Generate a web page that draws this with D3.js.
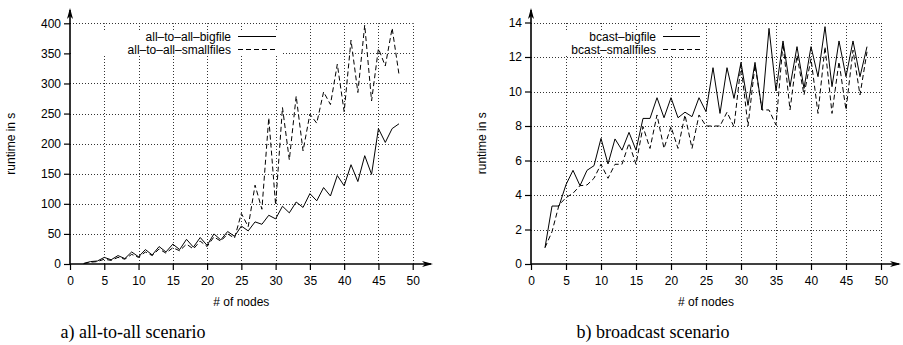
<!DOCTYPE html>
<html>
<head>
<meta charset="utf-8">
<script src="https://cdn.jsdelivr.net/npm/d3@7"></script>
<style>
  body { margin: 0; background: #fff; }
  svg { display: block; }
  .tick text { font-family: "Liberation Sans", Arial, sans-serif; font-size: 12px; fill: #000; }
  .domain { display: none; }
</style>
</head>
<body>
<svg id="chart" width="903" height="345"></svg>
<script>
// number of nodes (x values)
var nodes = [2,3,4,5,6,7,8,9,10,11,12,13,14,15,16,17,18,19,20,21,22,23,24,25,
             26,27,28,29,30,31,32,33,34,35,36,37,38,39,40,41,42,43,44,45,46,47,48];

// a) all-to-all scenario, runtime in s
var allBig = [1,4,5,11,7,14,9,20,12,24,15,29,20,33,24,41,28,44,31,50,40,54,46,63,
              55,70,66,81,75,96,85,103,94,117,105,127,113,147,130,165,137,180,149,225,202,225,233];
var allSmall = [0.5,3,4,8,6,11,8,16,11,20,14,25,18,27,22,33,25,38,29,45,38,50,43,84,
                62,131,91,243,98,260,173,279,188,249,234,286,265,332,253,372,285,397,271,358,329,392,315];

// b) broadcast scenario, runtime in s
var bcBig = [0.95,3.36,3.36,4.6,5.43,4.54,5.43,5.7,7.28,5.8,7.25,6.6,7.63,6.6,8.44,8.44,9.64,8.48,9.64,8.48,8.8,8.54,9.64,8.83,
             11.38,8.73,11.38,9.6,11.69,9.2,11.69,8.93,13.66,10.03,12.93,10.28,12.6,10.18,12.6,10.86,13.76,10.28,12.93,10.86,12.93,10.86,12.6];
var bcSmall = [0.95,1.87,3.42,3.85,4.1,4.54,4.58,4.97,5.78,4.97,5.78,5.78,7.0,5.78,7.96,6.7,8.64,6.7,7.96,6.7,8.64,6.7,8.64,8.0,
               8.0,8.0,8.8,7.96,11.54,8.0,11.54,8.93,8.93,8.06,12.8,8.93,12.1,9.8,11.9,8.73,12.6,8.73,11.73,8.93,12.4,9.8,12.3];

var xTicks = [0,5,10,15,20,25,30,35,40,45,50];
var allTicks = [0,50,100,150,200,250,300,350,400];
var bcTicks = [0,2,4,6,8,10,12,14];

var svg = d3.select("#chart");
var sans = "'Liberation Sans', Arial, sans-serif";

var panels = [
  {
    left: 70, right: 412.7, top: 23.3, bottom: 264, arrowX: 433,
    yMax: 400, yTicks: allTicks,
    series: [
      { name: "all\u2013to\u2013all\u2013bigfile", values: allBig, dash: null },
      { name: "all\u2013to\u2013all\u2013smallfiles", values: allSmall, dash: "5,3" }
    ],
    legend: { x0: 73, x1: 282, textEnd: 231, lineX0: 238, lineX1: 276 },
    ylabelX: 15, caption: "a) all-to-all scenario", captionX: 133
  },
  {
    left: 531, right: 881, top: 22.5, bottom: 264, arrowX: 901,
    yMax: 14, yTicks: bcTicks,
    series: [
      { name: "bcast\u2013bigfile", values: bcBig, dash: null },
      { name: "bcast\u2013smallfiles", values: bcSmall, dash: "5,3" }
    ],
    legend: { x0: 533, x1: 703, textEnd: 656, lineX0: 663, lineX1: 700 },
    ylabelX: 486, caption: "b) broadcast scenario", captionX: 653
  }
];

panels.forEach(function(p) {
  var x = d3.scaleLinear().domain([0, 50]).range([p.left, p.right]);
  var y = d3.scaleLinear().domain([0, p.yMax]).range([p.bottom, p.top]);
  var g = svg.append("g");

  // dotted grid
  g.selectAll(".hgrid")
    .data(p.yTicks.slice(1))
    .enter().append("line")
    .attr("x1", p.left).attr("x2", p.right)
    .attr("y1", function(d) { return Math.round(y(d)) + 0.5; })
    .attr("y2", function(d) { return Math.round(y(d)) + 0.5; })
    .style("stroke", "#333").style("stroke-dasharray", "1,2");
  g.selectAll(".vgrid")
    .data(xTicks.slice(1))
    .enter().append("line")
    .attr("x1", function(d) { return Math.round(x(d)) + 0.5; })
    .attr("x2", function(d) { return Math.round(x(d)) + 0.5; })
    .attr("y1", p.bottom).attr("y2", p.top)
    .style("stroke", "#333").style("stroke-dasharray", "1,2");

  // legend box hides the grid
  g.append("rect")
    .attr("x", p.legend.x0).attr("y", 30)
    .attr("width", p.legend.x1 - p.legend.x0).attr("height", 26)
    .style("fill", "#fff");

  // axes
  var xAxis = d3.axisBottom(x).tickValues(xTicks).tickSize(6).tickPadding(6);
  g.append("g")
    .attr("transform", "translate(0," + p.bottom + ")")
    .call(xAxis)
    .selectAll("line").style("stroke", "#000").style("stroke-width", 1.2);
  var yAxis = d3.axisLeft(y).tickValues(p.yTicks).tickSize(6).tickPadding(3);
  g.append("g")
    .attr("transform", "translate(" + p.left + ",0)")
    .call(yAxis)
    .selectAll("line").style("stroke", "#000").style("stroke-width", 1.2);

  g.append("line")
    .attr("x1", p.left).attr("x2", p.arrowX - 2)
    .attr("y1", p.bottom).attr("y2", p.bottom)
    .style("stroke", "#000").style("stroke-width", 1.6);
  g.append("path")
    .attr("d", "M" + p.arrowX + "," + p.bottom + "l-11,-3l3,3l-3,3z")
    .style("fill", "#000");
  g.append("line")
    .attr("x1", p.left).attr("x2", p.left)
    .attr("y1", p.bottom).attr("y2", 10)
    .style("stroke", "#000").style("stroke-width", 1.6);
  g.append("path")
    .attr("d", "M" + p.left + ",8l-3,11l3,-3l3,3z")
    .style("fill", "#000");

  // series lines
  var line = d3.line()
    .x(function(d, i) { return x(nodes[i]); })
    .y(function(d) { return y(d); });
  p.series.forEach(function(s) {
    g.append("path")
      .datum(s.values)
      .attr("d", line)
      .style("fill", "none")
      .style("stroke", "#000")
      .style("stroke-width", 1)
      .style("stroke-dasharray", s.dash);
  });

  // legend
  p.series.forEach(function(s, i) {
    var ly = 36.5 + i * 13;
    g.append("text")
      .attr("x", p.legend.textEnd).attr("y", ly + 4)
      .style("font-family", sans).style("font-size", "12px")
      .style("text-anchor", "end")
      .text(s.name);
    g.append("line")
      .attr("x1", p.legend.lineX0).attr("x2", p.legend.lineX1)
      .attr("y1", ly).attr("y2", ly)
      .style("stroke", "#000").style("stroke-width", 1)
      .style("stroke-dasharray", s.dash);
  });

  // axis titles
  g.append("text")
    .attr("transform", "translate(" + p.ylabelX + "," + ((p.top + p.bottom) / 2) + ") rotate(-90)")
    .style("font-family", sans).style("font-size", "12px")
    .style("text-anchor", "middle")
    .text("runtime in s");
  g.append("text")
    .attr("x", x(25)).attr("y", 306)
    .style("font-family", sans).style("font-size", "12px")
    .style("text-anchor", "middle")
    .text("# of nodes");

  // caption
  g.append("text")
    .attr("x", p.captionX).attr("y", 338)
    .style("font-family", "'Liberation Serif', 'Times New Roman', serif")
    .style("font-size", "18px")
    .style("text-anchor", "middle")
    .text(p.caption);
});
</script>
</body>
</html>
